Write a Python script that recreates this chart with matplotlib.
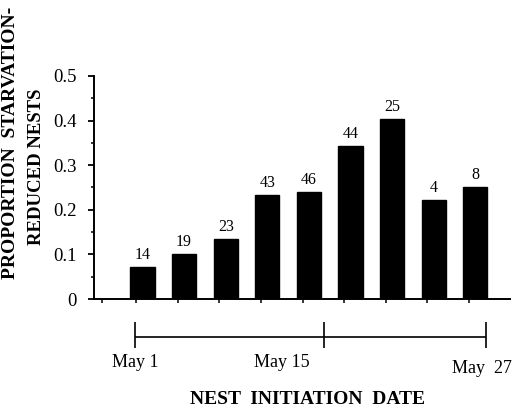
import matplotlib as mpl
mpl.use('Agg')
import matplotlib.pyplot as plt
import numpy as np

plt.rcParams['font.family'] = ['Liberation Serif', 'DejaVu Serif']

# Data
periods = [1, 2, 3, 4, 5, 6, 7, 8, 9]
proportion = [0.072, 0.100, 0.134, 0.233, 0.240, 0.343, 0.403, 0.222, 0.250]
n_nests = [14, 19, 23, 43, 46, 44, 25, 4, 8]
ytick_vals = [0, 0.1, 0.2, 0.3, 0.4, 0.5]
ytick_labels = ['0', '0.1', '0.2', '0.3', '0.4', '0.5']
date_days = [1, 15, 27]
date_labels = ['May 1', 'May 15', 'May  27']

W, H = 514, 411
fig = plt.figure(figsize=(W / 100, H / 100), dpi=100)
ax = fig.add_axes([94 / W, 1 - 299 / H, (510 - 94) / W, (299 - 76) / H])

ax.bar(periods, proportion, width=0.58, color='black', edgecolor='black')
for x, y, n in zip(periods, proportion, n_nests):
    ax.annotate(str(n), (x, y), xytext=(0, 3), textcoords='offset points',
                ha='center', va='bottom', fontsize=11.5)

ax.set_xlim(-0.166, 9.834)
ax.set_ylim(0, 0.5)
ax.set_yticks(ytick_vals)
ax.set_yticklabels(ytick_labels)
ax.set_yticks(np.arange(0.05, 0.5, 0.1), minor=True)
ax.set_xticks([0.02] + [p - 0.15 for p in periods])
ax.set_xticklabels([])

for s in ['top', 'right']:
    ax.spines[s].set_visible(False)
for s in ['left', 'bottom']:
    ax.spines[s].set_linewidth(1.4)

ax.tick_params(axis='y', which='major', direction='out', length=4.5, width=1.3,
               pad=8, labelsize=13.5)
ax.tick_params(axis='y', which='minor', direction='out', length=2.5, width=1.1)
ax.tick_params(axis='x', which='major', direction='out', length=3, width=1.1)

# y label, two lines
fig.text(11 / W, 1 - 143 / H, 'PROPORTION  STARVATION-', rotation=90,
         ha='center', va='center', fontsize=14, fontweight='bold')
fig.text(37 / W, 1 - 167 / H, 'REDUCED NESTS', rotation=90,
         ha='center', va='center', fontsize=13.5, fontweight='bold')

# date scale under the axis
ax2 = fig.add_axes([135 / W, 1 - 348 / H, (486 - 135) / W, (348 - 322) / H])
ax2.set_xlim(date_days[0], date_days[-1])
ax2.set_ylim(0, 1)
ax2.axis('off')
ax2.hlines(0.42, date_days[0], date_days[-1], color='black', lw=1.2, clip_on=False)
ax2.vlines(date_days, 0, 1, color='black', lw=1.2, clip_on=False)

ax2.annotate(date_labels[0], (date_days[0], 0), xytext=(0, -14),
             textcoords='offset points', ha='center', va='baseline',
             fontsize=13, annotation_clip=False)
ax2.annotate(date_labels[1], (date_days[1], 0), xytext=(-10, -14),
             textcoords='offset points', ha='right', va='baseline',
             fontsize=13, annotation_clip=False)
ax2.annotate(date_labels[2], (date_days[2], 0), xytext=(-3, -18),
             textcoords='offset points', ha='center', va='baseline',
             fontsize=13, annotation_clip=False)

fig.text(308 / W, 1 - 404 / H, 'NEST  INITIATION  DATE', ha='center',
         va='baseline', fontsize=14, fontweight='bold')

fig.savefig('out.png', dpi=100)
